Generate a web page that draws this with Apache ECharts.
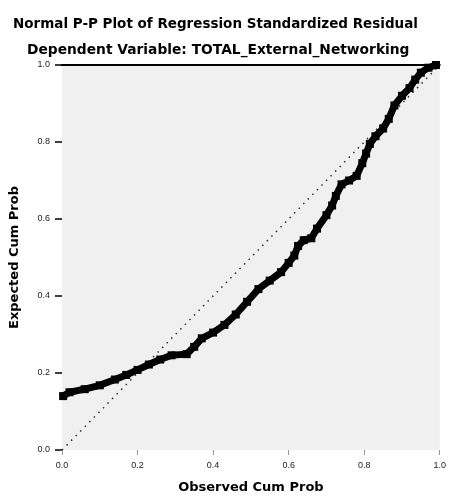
<!DOCTYPE html>
<html>
<head>
<meta charset="utf-8">
<script src="https://cdn.jsdelivr.net/npm/echarts@6/dist/echarts.min.js"></script>
<style>
  html, body { margin: 0; padding: 0; background: #ffffff; }
  #chart { width: 449px; height: 499px; }
</style>
</head>
<body>
<div id="chart"></div>
<script>
// Normal P-P plot of standardized residuals
const titleText = 'Normal P-P Plot of Regression Standardized Residual';
const subtitleText = 'Dependent Variable: TOTAL_External_Networking';
const xAxisName = 'Observed Cum Prob';
const yAxisName = 'Expected Cum Prob';

// observed cumulative probability
const observedCum = [
  0.003, 0.02, 0.06, 0.10, 0.14, 0.17, 0.20, 0.23, 0.26, 0.29,
  0.33, 0.35, 0.37, 0.40, 0.43, 0.46, 0.49, 0.52, 0.55, 0.58,
  0.60, 0.615, 0.625, 0.64, 0.66, 0.675, 0.70, 0.715, 0.725, 0.74,
  0.76, 0.78, 0.795, 0.805, 0.815, 0.83, 0.85, 0.865, 0.88, 0.90,
  0.92, 0.935, 0.95, 0.97, 0.99
];
// expected cumulative probability
const expectedCum = [
  0.140, 0.150, 0.158, 0.168, 0.183, 0.195, 0.208, 0.222, 0.235, 0.246,
  0.249, 0.268, 0.290, 0.305, 0.325, 0.352, 0.385, 0.418, 0.440, 0.462,
  0.486, 0.505, 0.530, 0.545, 0.550, 0.575, 0.610, 0.635, 0.660, 0.690,
  0.700, 0.712, 0.745, 0.770, 0.795, 0.815, 0.835, 0.860, 0.895, 0.920,
  0.940, 0.962, 0.980, 0.993, 1.000
];
// reference diagonal
const diagonal = [[0, 0], [1, 1]];

const points = observedCum.map((x, i) => [x, expectedCum[i]]);
const font = '"DejaVu Sans", sans-serif';
const tickFont = '"Liberation Sans", Arial, sans-serif';

const chart = echarts.init(document.getElementById('chart'), null, { renderer: 'canvas' });
chart.setOption({
  animation: false,
  backgroundColor: '#ffffff',
  title: [
    { text: titleText, left: 8, top: 12,
      textStyle: { fontFamily: font, fontSize: 13.5, fontWeight: 'bold', color: '#000' } },
    { text: subtitleText, left: 22, top: 38,
      textStyle: { fontFamily: font, fontSize: 13.8, fontWeight: 'bold', color: '#000' } }
  ],
  grid: {
    left: 56, right: 6, top: 65, bottom: 47,
    show: true, backgroundColor: '#f0f0f0', borderWidth: 0
  },
  xAxis: [
    {
      type: 'value', min: 0, max: 1, interval: 0.2,
      name: xAxisName, nameLocation: 'middle', nameGap: 31,
      nameTextStyle: { fontFamily: font, fontSize: 13, fontWeight: 'bold', color: '#000' },
      axisLine: { show: false },
      axisTick: { show: true, length: 5, lineStyle: { color: '#999' } },
      axisLabel: { fontFamily: tickFont, fontSize: 9, color: '#222', margin: 11,
        formatter: v => v.toFixed(1) },
      splitLine: { show: false }
    },
    {
      type: 'value', min: 0, max: 1, position: 'top',
      axisLine: { show: true, lineStyle: { color: '#000', width: 2 } },
      axisTick: { show: false }, axisLabel: { show: false }, splitLine: { show: false }
    }
  ],
  yAxis: {
    type: 'value', min: 0, max: 1, interval: 0.2,
    name: yAxisName, nameLocation: 'middle', nameGap: 41, nameRotate: 90,
    nameTextStyle: { fontFamily: font, fontSize: 13, fontWeight: 'bold', color: '#000' },
    axisLine: { show: false },
    axisTick: { show: true, length: 7, lineStyle: { color: '#000', width: 1.5 } },
    axisLabel: { fontFamily: tickFont, fontSize: 9, color: '#222', margin: 12,
      formatter: v => v.toFixed(1) },
    splitLine: { show: false }
  },
  series: [
    {
      type: 'line', data: diagonal, xAxisIndex: 0,
      symbol: 'none', silent: true,
      lineStyle: { color: '#333', width: 1.5, type: [1.5, 5] }
    },
    {
      type: 'line', data: points, xAxisIndex: 0,
      symbol: 'rect', symbolSize: 8, showSymbol: true,
      itemStyle: { color: '#000' },
      lineStyle: { color: '#000', width: 7 }
    }
  ]
});
</script>
</body>
</html>
